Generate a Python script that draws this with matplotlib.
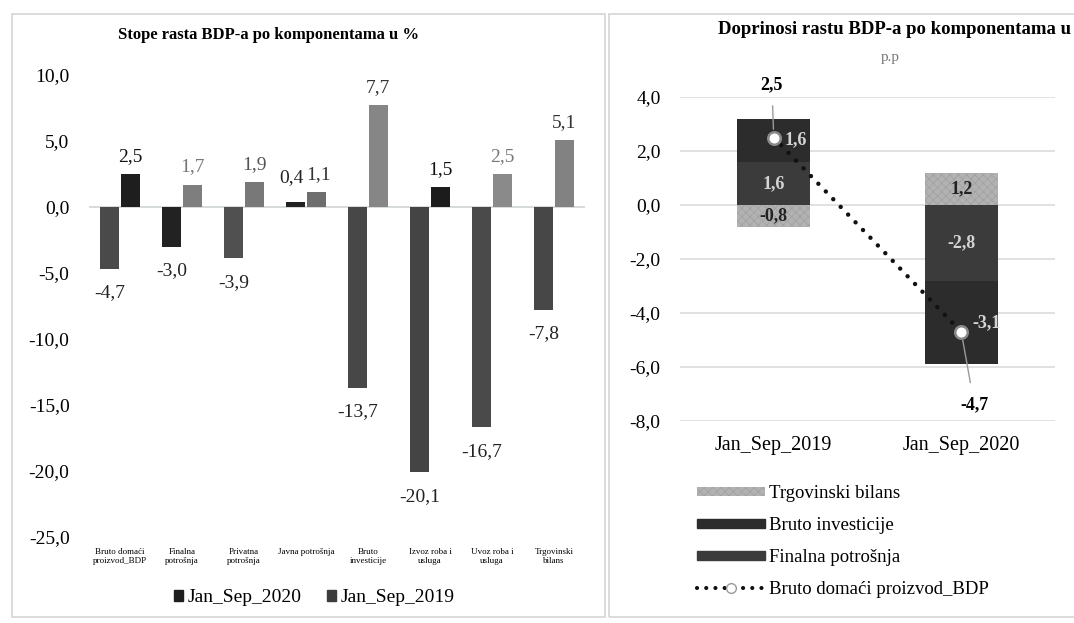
import matplotlib
matplotlib.use('Agg')
import matplotlib.pyplot as plt
import numpy as np
from matplotlib.patches import Patch, Rectangle
from matplotlib.lines import Line2D
from matplotlib.ticker import FuncFormatter, FixedLocator

plt.rcParams['font.family'] = ['Liberation Serif', 'DejaVu Serif']
plt.rcParams['hatch.linewidth'] = 0.5
plt.rcParams['hatch.color'] = '#9c9c9c'

# lijevi grafikon: stope rasta
kategorije = ['Bruto domaći\nproizvod_BDP', 'Finalna\npotrošnja', 'Privatna\npotrošnja',
              'Javna potrošnja', 'Bruto\ninvesticije', 'Izvoz roba i\nusluga',
              'Uvoz roba i\nusluga', 'Trgovinski\nbilans']
rast_2020 = [-4.7, -3.0, -3.9, 0.4, -13.7, -20.1, -16.7, -7.8]
rast_2019 = [2.5, 1.7, 1.9, 1.1, 7.7, 1.5, 2.5, 5.1]

# desni grafikon: doprinosi rastu
periodi = ['Jan_Sep_2019', 'Jan_Sep_2020']
finalna = [1.6, -2.8]
investicije = [1.6, -3.1]
trgovinski = [-0.8, 1.2]
bdp = [2.5, -4.7]

# boje (skenirani dokument, sivi tonovi)
boje_2020 = ['#4a4a4a', '#222222', '#505050', '#222222', '#474747', '#444444', '#4a4a4a', '#474747']
boje_2019 = ['#1e1e1e', '#7e7e7e', '#787878', '#6e6e6e', '#868686', '#1c1c1c', '#8a8a8a', '#828282']
boje_lab19 = ['#111111', '#777777', '#555555', '#333333', '#333333', '#111111', '#777777', '#333333']


def zarez(v, pos=None):
    return f'{v:.1f}'.replace('.', ',')


W, H = 1074, 623
fig = plt.figure(figsize=(W / 100, H / 100), dpi=100)
fig.patch.set_facecolor('white')

# okviri panela
fig.add_artist(Rectangle((12 / W, 1 - 617 / H), 593 / W, 603 / H, transform=fig.transFigure,
                         fill=False, edgecolor='#d6d6d6', lw=1.2))
fig.add_artist(Rectangle((609 / W, 1 - 617 / H), 470 / W, 603 / H, transform=fig.transFigure,
                         fill=False, edgecolor='#d6d6d6', lw=1.2))

# ---------- lijevi panel ----------
ax1 = fig.add_axes([89 / W, 1 - 537 / H, 496 / W, 462 / H])
x = np.arange(len(kategorije))
w = 0.3
b20 = ax1.bar(x - 0.165, rast_2020, w, color=boje_2020, zorder=3)
b19 = ax1.bar(x + 0.165, rast_2019, w, color=boje_2019, zorder=3)
ax1.axhline(0, color='#cfd6d4', lw=1.2, zorder=2)
ax1.set_xlim(-0.5, len(kategorije) - 0.5)
ax1.set_ylim(-25, 10)
ax1.yaxis.set_major_locator(FixedLocator([10, 5, 0, -5, -10, -15, -20, -25]))
ax1.yaxis.set_major_formatter(FuncFormatter(zarez))
ax1.set_xticks(x)
ax1.set_xticklabels(kategorije, fontsize=6.5, linespacing=1.1, va='top')
ax1.tick_params(axis='x', length=0, pad=8)
ax1.tick_params(axis='y', length=0, pad=14, labelsize=14)
for s in ax1.spines.values():
    s.set_visible(False)
ax1.patch.set_alpha(0)

lab20 = ax1.bar_label(b20, labels=[zarez(v) for v in rast_2020], padding=11, fontsize=14, color='#222222')
lab19 = ax1.bar_label(b19, labels=[zarez(v) for v in rast_2019], padding=6.5, fontsize=14)
for t, c in zip(lab19, boje_lab19):
    t.set_color(c)
# 0,4 i 1,1 su u originalu priljubljeni - malo ih razmaknuti
dx, dy = lab20[3].xyann
lab20[3].xyann = (dx - 3, dy)
dx, dy = lab19[3].xyann
lab19[3].xyann = (dx + 2, dy)

fig.text(268 / W, 1 - 35 / H, 'Stope rasta BDP-a po komponentama u %', ha='center', va='center',
         fontsize=12, fontweight='bold')

fig.legend(handles=[Patch(color='#1e1e1e', label='Jan_Sep_2020'),
                    Patch(color='#3c3c3c', label='Jan_Sep_2019')],
           loc='center', bbox_to_anchor=(314 / W, 1 - 598 / H), ncol=2, frameon=False,
           fontsize=14, handlelength=0.5, handleheight=0.5, handletextpad=0.2,
           columnspacing=1.3, borderpad=0)

# ---------- desni panel ----------
ax2 = fig.add_axes([680 / W, 1 - 421 / H, 375 / W, 324 / H])
xp = np.arange(len(periodi))
bw = 0.39
serije = [('Finalna potrošnja', finalna, '#3b3b3b', None),
          ('Bruto investicije', investicije, '#2c2c2c', None),
          ('Trgovinski bilans', trgovinski, '#b2b2b2', 'xxxx')]
poz = np.zeros(len(periodi))
neg = np.zeros(len(periodi))
for ime, vals, boja, hatch in serije:
    vals = np.array(vals)
    dno = np.where(vals >= 0, poz, neg)
    bars = ax2.bar(xp, vals, bw, bottom=dno, color=boja, hatch=hatch,
                   edgecolor=boja if hatch is None else '#a0a0a0', lw=0, zorder=3)
    for i, (r, v) in enumerate(zip(bars, vals)):
        yc = dno[i] + v / 2
        if ime == 'Bruto investicije':
            t = ax2.text(xp[i] + 0.06, yc, zarez(v), ha='left', va='center', fontsize=13,
                         fontweight='bold', color='#d4d4d4', zorder=6)
            t.set_clip_path(r)
        else:
            ax2.text(xp[i], yc, zarez(v), ha='center', va='center', fontsize=13,
                     fontweight='bold', color='#222222' if hatch else '#d4d4d4', zorder=6)
    poz = poz + np.where(vals >= 0, vals, 0)
    neg = neg + np.where(vals < 0, vals, 0)

ax2.plot(xp, bdp, color='#111111', lw=3.2, linestyle=(0, (0.01, 2.4)), dash_capstyle='round',
         zorder=4)
ax2.plot(xp, bdp, linestyle='none', marker='o', ms=9, mfc='white', mec='#8a8a8a', mew=1.8, zorder=7)
ax2.annotate(zarez(bdp[0]), xy=(xp[0], bdp[0]), xytext=(xp[0] - 0.01, 4.45), ha='center', va='center',
             fontsize=13, fontweight='bold',
             arrowprops=dict(arrowstyle='-', color='#9a9a9a', lw=1, shrinkA=7, shrinkB=6))
ax2.annotate(zarez(bdp[1]), xy=(xp[1], bdp[1]), xytext=(xp[1] + 0.07, -7.4), ha='center', va='center',
             fontsize=13, fontweight='bold',
             arrowprops=dict(arrowstyle='-', color='#9a9a9a', lw=1, shrinkA=8, shrinkB=6))

ax2.set_xlim(-0.5, 1.5)
ax2.set_ylim(-8, 4)
ax2.yaxis.set_major_locator(FixedLocator([4, 2, 0, -2, -4, -6, -8]))
ax2.yaxis.set_major_formatter(FuncFormatter(zarez))
ax2.grid(axis='y', color='#d9d9d9', lw=1.1, zorder=0)
ax2.set_axisbelow(True)
ax2.set_xticks(xp)
ax2.set_xticklabels(periodi, fontsize=14.5)
ax2.tick_params(axis='x', length=0, pad=11)
ax2.tick_params(axis='y', length=0, pad=14, labelsize=14)
for s in ax2.spines.values():
    s.set_visible(False)
ax2.patch.set_alpha(0)

fig.text(718 / W, 1 - 30 / H, 'Doprinosi rastu BDP-a po komponentama u', ha='left', va='center',
         fontsize=13.5, fontweight='bold')
fig.text(890 / W, 1 - 57 / H, 'p.p', ha='center', va='center', fontsize=11, color='#777777')

leg_handles = [Patch(facecolor='#b2b2b2', hatch='xxxx', edgecolor='#a0a0a0', lw=0, label='Trgovinski bilans'),
               Patch(color='#2c2c2c', label='Bruto investicije'),
               Patch(color='#3b3b3b', label='Finalna potrošnja'),
               Line2D([], [], color='#111111', lw=3, linestyle=(0, (0.01, 2.2)), dash_capstyle='round',
                      marker='o', ms=7, mfc='white', mec='#9a9a9a', label='Bruto domaći proizvod_BDP')]
fig.legend(handles=leg_handles, loc='upper left', bbox_to_anchor=(697 / W, 1 - 485 / H), frameon=False,
           fontsize=13.5, handlelength=3.6, handleheight=0.4, handletextpad=0.25, labelspacing=0.8,
           borderpad=0, borderaxespad=0, numpoints=1)

fig.savefig('out.png', dpi=100)
